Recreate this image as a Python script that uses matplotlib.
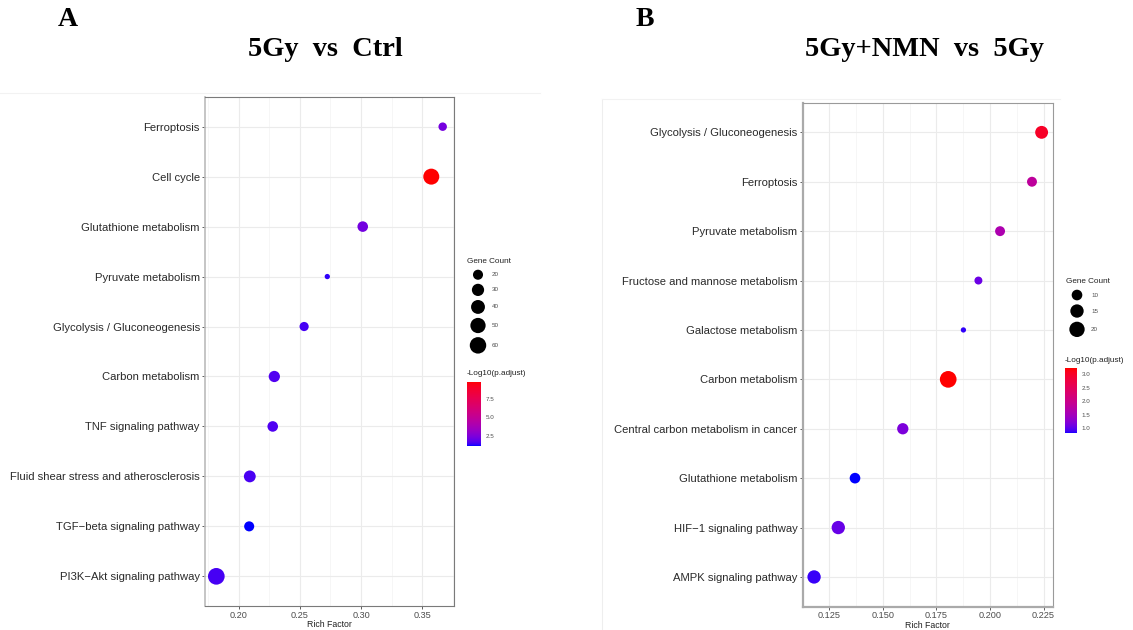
import numpy as np
import matplotlib
matplotlib.use("Agg")
import matplotlib.pyplot as plt
from matplotlib.colors import ListedColormap, Normalize
from matplotlib.cm import ScalarMappable
from matplotlib.ticker import MultipleLocator, FormatStrFormatter

plt.rcParams['font.family'] = ['Liberation Sans', 'DejaVu Sans']

W, H, DPI = 1133, 630, 100

# --- Panel A: 5Gy vs Ctrl ---
terms_a = ['Ferroptosis', 'Cell cycle', 'Glutathione metabolism', 'Pyruvate metabolism',
           'Glycolysis / Gluconeogenesis', 'Carbon metabolism', 'TNF signaling pathway',
           'Fluid shear stress and atherosclerosis', 'TGF−beta signaling pathway',
           'PI3K−Akt signaling pathway']
rich_a = [0.3665, 0.3572, 0.3013, 0.2724, 0.2535, 0.2292, 0.2279, 0.2092, 0.2087, 0.1819]
count_a = [15, 56, 22, 11, 17, 25, 22, 28, 20, 62]
logp_a = [2.25, 9.8, 2.2, 1.27, 1.5, 1.62, 1.58, 1.53, 1.1, 1.5]
count_breaks_a = [20, 30, 40, 50, 60]
logp_breaks_a = [2.5, 5.0, 7.5]

# --- Panel B: 5Gy+NMN vs 5Gy ---
terms_b = ['Glycolysis / Gluconeogenesis', 'Ferroptosis', 'Pyruvate metabolism',
           'Fructose and mannose metabolism', 'Galactose metabolism', 'Carbon metabolism',
           'Central carbon metabolism in cancer', 'Glutathione metabolism',
           'HIF−1 signaling pathway', 'AMPK signaling pathway']
rich_b = [0.2241, 0.2196, 0.2047, 0.1946, 0.1876, 0.1805, 0.1593, 0.1370, 0.1292, 0.1179]
count_b = [14, 9, 9, 7, 6, 24, 11, 10, 15, 15]
logp_b = [3.0, 1.83, 1.62, 1.08, 0.87, 3.22, 1.18, 0.82, 1.06, 0.89]
count_breaks_b = [10, 15, 20]
logp_breaks_b = [1.0, 1.5, 2.0, 2.5, 3.0]


# --- blue -> red gradient interpolated in Lab space ---
M = np.array([[0.4124, 0.3576, 0.1805],
              [0.2126, 0.7152, 0.0722],
              [0.0193, 0.1192, 0.9505]])
WHITE = np.array([0.95047, 1.0, 1.08883])


def to_lab(rgb):
    c = np.asarray(rgb, float)
    lin = np.where(c <= 0.04045, c / 12.92, ((c + 0.055) / 1.055) ** 2.4)
    xyz = M @ lin / WHITE
    f = np.where(xyz > 0.008856, np.cbrt(xyz), 7.787 * xyz + 16 / 116)
    return np.array([116 * f[1] - 16, 500 * (f[0] - f[1]), 200 * (f[1] - f[2])])


def from_lab(lab):
    L, a, b = lab
    fy = (L + 16) / 116
    f = np.array([fy + a / 500, fy, fy - b / 200])
    xyz = np.where(f ** 3 > 0.008856, f ** 3, (f - 16 / 116) / 7.787) * WHITE
    lin = np.clip(np.linalg.solve(M, xyz), 0, 1)
    c = np.where(lin <= 0.0031308, 12.92 * lin, 1.055 * lin ** (1 / 2.4) - 0.055)
    return np.clip(c, 0, 1)


lab_lo, lab_hi = to_lab([0, 0, 1]), to_lab([1, 0, 0])
cmap = ListedColormap([from_lab(lab_lo + (lab_hi - lab_lo) * t) for t in np.linspace(0, 1, 256)])


def size_px(count, cmin, cmax):
    # area scale: diameter grows with sqrt of the rescaled count
    t = (np.asarray(count, float) - cmin) / (cmax - cmin)
    return 2.28 * (1 + 5 * np.sqrt(t)) + 3.0


def area(d):
    return (np.asarray(d) * 72 / DPI) ** 2


def panel(ax, terms, rich, count, logp, major, minor, fmt):
    n = len(terms)
    y = np.arange(n)
    d = size_px(count, min(count), max(count))
    ax.scatter(rich, y, s=area(d), c=logp, cmap=cmap, vmin=min(logp), vmax=max(logp),
               linewidths=0, zorder=3)
    pad = 0.05 * (max(rich) - min(rich))
    ax.set_xlim(min(rich) - pad, max(rich) + pad)
    ax.set_ylim(n - 0.4, -0.6)
    ax.set_yticks(y, terms)
    ax.xaxis.set_major_locator(MultipleLocator(major))
    ax.xaxis.set_minor_locator(MultipleLocator(minor))
    ax.xaxis.set_major_formatter(FormatStrFormatter(fmt))
    ax.grid(which='major', color='#EBEBEB', lw=0.8, zorder=0)
    ax.grid(which='minor', axis='x', color='#F3F3F3', lw=0.5, zorder=0)
    ax.set_axisbelow(True)
    ax.tick_params(axis='y', labelsize=8.1, labelcolor='#2A2A2A', length=2.2, width=0.6,
                   color='#444444', pad=1.5)
    ax.tick_params(axis='x', which='major', labelsize=6.6, labelcolor='#4D4D4D', length=2.2,
                   width=0.6, color='#444444', pad=1)
    ax.tick_params(axis='x', which='minor', length=0)
    ax.set_xlabel('Rich Factor', fontsize=6.3, labelpad=0.5, color='#222222')
    for sp in ax.spines.values():
        sp.set_color('#7A7A7A')
        sp.set_linewidth(0.8)
    return min(count), max(count)


def size_legend(ov, x, ty, breaks, cmin, cmax):
    ov.text(x, ty, 'Gene Count', fontsize=5.9, va='center', ha='left', color='#222222')
    d = size_px(breaks, cmin, cmax)
    h = d + 4
    yc = ty + 6 + h[0] / 2 + np.concatenate([[0], np.cumsum((h[:-1] + h[1:]) / 2)])
    ov.scatter(np.full(len(breaks), x + 11), yc, s=area(d), color='black', linewidths=0)
    for b, yy in zip(breaks, yc):
        ov.text(x + 25, yy, str(b), fontsize=4.5, va='center', ha='left', color='#4D4D4D')


def color_legend(fig, ov, x, ty, rect, logp, ticks):
    ov.text(x, ty, '-Log10(p.adjust)', fontsize=5.9, va='center', ha='left', color='#222222')
    cax = fig.add_axes(rect)
    norm = Normalize(min(logp), max(logp))
    cb = fig.colorbar(ScalarMappable(norm=norm, cmap=cmap), cax=cax, ticks=ticks)
    cb.outline.set_visible(False)
    cax.tick_params(length=0, labelsize=4.5, labelcolor='#4D4D4D', pad=3.5)
    cax.set_yticklabels([f'{t:.1f}' for t in ticks])


fig = plt.figure(figsize=(W / DPI, H / DPI), dpi=DPI)

ax1 = fig.add_axes([205 / W, 1 - 606.3 / H, 249 / W, 509.6 / H])
ax2 = fig.add_axes([802.7 / W, 1 - 606.6 / H, 250.3 / W, 503.9 / H])
cmin_a, cmax_a = panel(ax1, terms_a, rich_a, count_a, logp_a, 0.05, 0.025, '%.2f')
cmin_b, cmax_b = panel(ax2, terms_b, rich_b, count_b, logp_b, 0.025, 0.0125, '%.3f')
ax1.spines['left'].set_color('#BBBBBB')
ax1.spines['left'].set_linewidth(1.2)
for sp in ('left', 'bottom'):
    ax2.spines[sp].set_color('#AAAAAA')
    ax2.spines[sp].set_linewidth(1.6)
for sp in ('top', 'right'):
    ax2.spines[sp].set_color('#9A9A9A')

# overlay in pixel units for titles and legends
ov = fig.add_axes([0, 0, 1, 1], zorder=-1)
ov.set_xlim(0, W)
ov.set_ylim(H, 0)
ov.axis('off')

# faint edges of the two source images
ov.plot([0, 540], [93, 93], color='#F2F2F2', lw=0.8)
ov.plot([602, 602], [99, H], color='#EEEEEE', lw=0.8)
ov.plot([602, 1060], [99, 99], color='#F2F2F2', lw=0.8)

serif = dict(family=['Liberation Serif', 'DejaVu Serif'], weight='bold', ha='center', va='center')
ov.text(68, 20, 'A', fontsize=20, **serif)
ov.text(645, 20, 'B', fontsize=20, **serif)
ov.text(325, 50, '5Gy  vs  Ctrl', fontsize=20.4, **serif)
ov.text(924.5, 50, '5Gy+NMN  vs  5Gy', fontsize=20.4, **serif)

size_legend(ov, 467, 261.7, count_breaks_a, cmin_a, cmax_a)
size_legend(ov, 1066, 281.7, count_breaks_b, cmin_b, cmax_b)
color_legend(fig, ov, 467, 373.3, [467 / W, 1 - 446 / H, 13.7 / W, 64.3 / H],
             logp_a, logp_breaks_a)
color_legend(fig, ov, 1065, 360.7, [1065 / W, 1 - 433.3 / H, 11.7 / W, 65 / H],
             logp_b, logp_breaks_b)

fig.savefig('out.png', dpi=DPI)
